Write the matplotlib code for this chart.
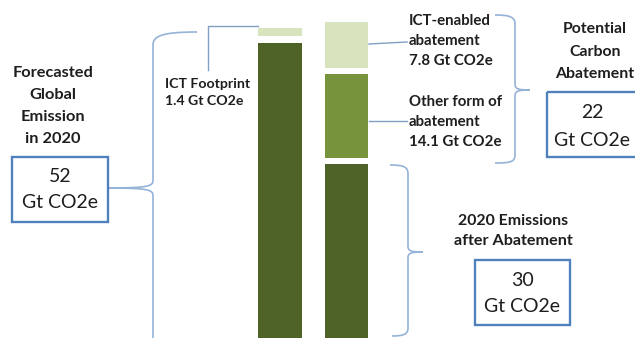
import matplotlib
matplotlib.use('Agg')
import matplotlib.pyplot as plt
import matplotlib.transforms as mtransforms
from matplotlib.path import Path
from matplotlib.patches import PathPatch, Rectangle
from matplotlib.lines import Line2D

# data (Gt CO2e)
bars = ['Forecast 2020', 'After abatement']
base = [50.6, 30.0]            # dark segment
middle = [0.0, 14.1]           # other abatement
top = [1.4, 7.8]               # ICT footprint / ICT-enabled abatement
total_forecast = 52
total_abatement = 22
total_after = 30

DARK = '#4f6228'
MID = '#77933c'
LIGHT = '#d7e4bd'
BRACE = '#95b3d7'
BOX = '#4f81bd'
TXT = '#1e1e1e'
GAP = 1.1

W, H = 635, 338
fig = plt.figure(figsize=(W / 100, H / 100), dpi=100, facecolor='w')
ax = fig.add_axes([0, 0, 1, 1])
ax.axis('off')

x = [0, 1]
ax.bar(x, base, width=0.66, color=DARK)
b2 = [base[i] + (GAP if middle[i] > 0 else 0) for i in range(2)]
ax.bar([1], [middle[1]], bottom=[b2[1]], width=0.66, color=MID)
b3 = [b2[i] + middle[i] + GAP for i in range(2)]
ax.bar(x, top, bottom=b3, width=0.66, color=LIGHT)

ymax = b3[1] + top[1]
ylow = 0.5
s = (H - 22) / (ymax - ylow)
ax.set_ylim(ylow, ymax + 22 / s)
ax.set_xlim(-280 / 66.5, 1 + (W - 346.5) / 66.5)

# pixel coordinates, origin top-left
pix = mtransforms.Affine2D().scale(1 / W, -1 / H).translate(0, 1) + fig.transFigure


def brace(verts, codes):
    p = PathPatch(Path(verts, codes), transform=pix, fill=False,
                  edgecolor=BRACE, lw=1.2)
    fig.add_artist(p)


M, L, C = Path.MOVETO, Path.LINETO, Path.CURVE4
brace([(197, 32), (162, 32), (153, 36), (153, 45), (153, 180),
       (153, 186), (150, 188), (108, 188),
       (108, 188), (150, 188), (153, 190), (153, 196), (153, 345)],
      [M, C, C, C, L, C, C, C, M, C, C, C, L])
brace([(495, 15), (510, 15), (515, 17), (515, 24), (515, 84),
       (515, 89), (518, 90), (530, 90),
       (530, 90), (518, 90), (515, 91), (515, 96), (515, 155),
       (515, 162), (510, 163), (495, 163)],
      [M, C, C, C, L, C, C, C, M, C, C, C, L, C, C, C])
brace([(390, 165), (404, 165), (408, 167), (408, 174), (408, 246),
       (408, 251), (411, 252), (423, 252),
       (423, 252), (411, 252), (408, 253), (408, 258), (408, 328),
       (408, 334), (404, 336), (392, 336)],
      [M, C, C, C, L, C, C, C, M, C, C, C, L, C, C, C])

for xs, ys in [([258, 208, 208], [26, 26, 70]),
               ([369, 407], [44, 42]),
               ([369, 407], [121, 121])]:
    fig.add_artist(Line2D(xs, ys, transform=pix, color='#7f9fc4', lw=1.0))

for (x0, y0, x1, y1) in [(12, 157, 108, 222), (547, 92, 650, 157), (475, 260, 570, 325)]:
    fig.add_artist(Rectangle((x0, y0), x1 - x0, y1 - y0, transform=pix,
                             fill=False, edgecolor=BOX, lw=1.7))

FONT = 'Lato'


def txt(px, py, s, size, bold=True, ha='center'):
    fig.text(px / W, 1 - py / H, s, fontsize=size, family=FONT,
             fontweight='bold' if bold else 'normal', color=TXT,
             ha=ha, va='center')


for i, line in enumerate(['Forecasted', 'Global', 'Emission', 'in 2020']):
    txt(53, 73 + 22 * i, line, 11.8)
txt(60, 176, f'{total_forecast}', 14, bold=False)
txt(60, 203, 'Gt CO2e', 14, bold=False)

txt(165, 84, 'ICT Footprint', 10.2, ha='left')
txt(165, 101, f'{top[0]} Gt CO2e', 10.2, ha='left')

for i, line in enumerate(['ICT-enabled', 'abatement', f'{top[1]} Gt CO2e']):
    txt(409, 21 + 20 * i, line, 10.8, ha='left')
for i, line in enumerate(['Other form of', 'abatement', f'{middle[1]} Gt CO2e']):
    txt(409, 102 + 20 * i, line, 10.8, ha='left')

for i, line in enumerate(['Potential', 'Carbon', 'Abatement']):
    txt(595, 29 + 22.5 * i, line, 11.4)
txt(592, 113, f'{total_abatement}', 14, bold=False)
txt(592, 140, 'Gt CO2e', 14, bold=False)

txt(513, 221, '2020 Emissions', 11.4)
txt(513, 241, 'after Abatement', 11.6)
txt(522, 281, f'{total_after}', 14, bold=False)
txt(522, 306, 'Gt CO2e', 14, bold=False)

fig.savefig('out.png', dpi=100, facecolor='w')
